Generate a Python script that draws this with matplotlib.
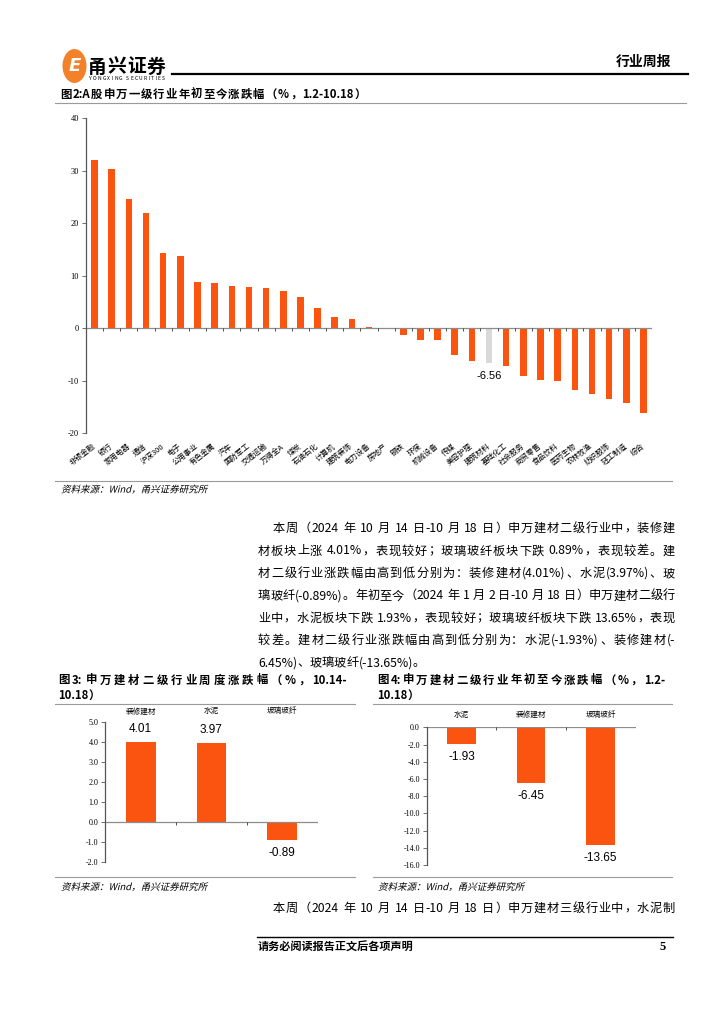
import re
import numpy as np
import matplotlib
matplotlib.use("Agg")
import matplotlib.pyplot as plt
from matplotlib.patches import Circle, PathPatch
from matplotlib.textpath import TextPath
from matplotlib.font_manager import FontProperties
from matplotlib.transforms import Affine2D

# ---------------- data ----------------
ind_names = ["非银金融", "银行", "家用电器", "通信", "沪深300", "电子", "公用事业",
             "有色金属", "汽车", "国防军工", "交通运输", "万得全A", "煤炭", "石油石化",
             "计算机", "建筑装饰", "电力设备", "房地产", "钢铁", "环保", "机械设备",
             "传媒", "美容护理", "建筑材料", "基础化工", "社会服务", "商贸零售",
             "食品饮料", "医药生物", "农林牧渔", "纺织服饰", "轻工制造", "综合"]
ind_ytd = [32.0, 30.3, 24.6, 22.0, 14.4, 13.8, 8.7, 8.6, 8.1, 7.8, 7.6, 7.1, 5.9,
           3.8, 2.2, 1.8, 0.15, -0.05, -1.3, -2.2, -2.2, -5.1, -6.2, -6.56, -7.2,
           -9.1, -9.8, -10.1, -11.8, -12.5, -13.6, -14.3, -16.1]
highlight = "建筑材料"

week_names = ["装修建材", "水泥", "玻璃玻纤"]
week_chg = [4.01, 3.97, -0.89]

ytd_names = ["水泥", "装修建材", "玻璃玻纤"]
ytd_chg = [-1.93, -6.45, -13.65]

para_lines = [
    "本周（2024 年 10 月 14 日-10 月 18 日）申万建材二级行业中，装修建",
    "材板块上涨 4.01%，表现较好；玻璃玻纤板块下跌 0.89%，表现较差。建",
    "材二级行业涨跌幅由高到低分别为：装修建材(4.01%)、水泥(3.97%)、玻",
    "璃玻纤(-0.89%)。年初至今（2024 年 1 月 2 日-10 月 18 日）申万建材二级行",
    "业中，水泥板块下跌 1.93%，表现较好；玻璃玻纤板块下跌 13.65%，表现",
    "较差。建材二级行业涨跌幅由高到低分别为：水泥(-1.93%)、装修建材(-",
    "6.45%)、玻璃玻纤(-13.65%)。",
]
para2_line = "本周（2024 年 10 月 14 日-10 月 18 日）申万建材三级行业中，水泥制"
source_txt = "资料来源：Wind，甬兴证券研究所"

# ---------------- style ----------------
W, H = 724, 1024
CJK = "Noto Sans CJK SC"
SERIF = "Liberation Serif"
SANS = "Liberation Sans"
BAR = "#FB5310"
GREY_BAR = "#D9D9D9"
RULE = "#9A9A9A"
AXC = "#555555"

plt.rcParams["font.family"] = [CJK, "DejaVu Sans"]
fig = plt.figure(figsize=(W / 100, H / 100), dpi=100)
renderer = fig.canvas.get_renderer()


def fx(x):
    return x / W


def fy(y):
    return 1 - y / H


def hline(y, x0, x1, lw=0.8, color=RULE):
    fig.add_artist(plt.Line2D([fx(x0), fx(x1)], [fy(y), fy(y)], color=color, lw=lw,
                              transform=fig.transFigure))


def text_line(x0, x1, y, s, size, weight="normal", justify=True, per_char=False):
    # split into CJK chars / ascii runs and spread them across the line width
    if per_char:
        toks = list(s)
    else:
        toks = re.findall(r"[\x21-\x7e]+|\s+|[^\x00-\x7f]", s)
    widths = []
    for t in toks:
        if t.isspace():
            widths.append(size * 100 / 72 * 0.25)
            continue
        tt = fig.text(0, 0, t, fontsize=size, fontweight=weight)
        widths.append(tt.get_window_extent(renderer).width)
        tt.remove()
    gap = 0.0
    if justify and len(toks) > 1:
        gap = (x1 - x0 - sum(widths)) / (len(toks) - 1)
    x = x0
    for t, w in zip(toks, widths):
        if not t.isspace():
            fig.text(fx(x), fy(y), t, fontsize=size, fontweight=weight,
                     ha="left", va="center_baseline")
        x += w + gap


def italic_text(x, y, s, size_px):
    tp = TextPath((0, 0), s, size=size_px, prop=FontProperties(family=CJK))
    tr = (Affine2D().skew_deg(14, 0).translate(x, H - y - size_px * 0.38)
          + Affine2D().scale(1 / W, 1 / H) + fig.transFigure)
    fig.add_artist(PathPatch(tp, transform=tr, facecolor="black", lw=0))


def axes_px(left, right, top, bottom):
    return fig.add_axes([fx(left), fy(bottom), (right - left) / W, (bottom - top) / H])


# ---------------- header ----------------
fig.add_artist(Circle((fx(74.5), fy(66)), 12 / W, transform=fig.transFigure,
                      facecolor="#F2812A", edgecolor="none"))
fig.text(fx(75), fy(66), "E", fontsize=13, color="white", fontweight="bold",
         style="italic", family="DejaVu Sans", ha="center", va="center")
text_line(88, 165, 65, "甬兴证券", 13.5, weight="bold")
text_line(89, 165, 78.5, "YONGXING SECURITIES", 3.6, per_char=True)
fig.text(fx(671), fy(62), "行业周报", fontsize=10, fontweight="bold", ha="right",
         va="center")
hline(73.5, 172, 688, lw=1.6, color="black")

# ---------------- figure 2 ----------------
text_line(60, 366, 93, "图2:A股申万一级行业年初至今涨跌幅（%，1.2-10.18）", 8.2,
          weight="bold")
hline(103, 55, 686)

ax = axes_px(86, 652, 118.3, 433)
n = len(ind_names)
xs = np.arange(n)
cols = [GREY_BAR if c == highlight else BAR for c in ind_names]
ax.bar(xs, ind_ytd, width=0.38, color=cols)
ax.set_xlim(-0.5, n - 0.5)
ax.set_ylim(-20, 40)
ax.set_yticks(np.arange(-20, 41, 10))
ax.set_yticklabels([f"{v}" for v in range(-20, 41, 10)], family=SERIF, fontsize=6)
ax.tick_params(axis="y", length=3, width=0.6, color=AXC, pad=2)
ax.set_xticks(xs)
ax.set_xticklabels(ind_names, rotation=38, ha="right", va="center",
                   rotation_mode="anchor", fontsize=5.4)
ax.tick_params(axis="x", length=0, pad=9)
for s in ["top", "right", "bottom"]:
    ax.spines[s].set_visible(False)
ax.spines["left"].set_color(AXC)
ax.spines["left"].set_linewidth(0.9)
ax.axhline(0, color="#8C8C8C", lw=0.9)
ax.vlines(np.arange(n + 1) - 0.5, -0.55, 0, color="#333333", lw=0.6)
hi = ind_names.index(highlight)
ax.annotate(f"{ind_ytd[hi]:.2f}", (hi, ind_ytd[hi]), xytext=(0, -6),
            textcoords="offset points", ha="center", va="top", fontsize=8,
            family=SANS)

hline(481, 55, 672)
italic_text(61, 489, source_txt, 9.5)

# ---------------- paragraph ----------------
ys = [527, 549.5, 572, 594.3, 616.6, 639, 661.3]
for i, (line, y) in enumerate(zip(para_lines, ys)):
    x0 = 273 if i == 0 else 258
    text_line(x0, 675, y, line, 8.8, justify=(i < len(para_lines) - 1))

# ---------------- figure 3 ----------------
text_line(58, 347, 678.5, "图3:申万建材二级行业周度涨跌幅（%，10.14-", 8.2,
          weight="bold")
text_line(58, 92, 694, "10.18）", 8.2, weight="bold", justify=False)
hline(703.5, 55, 355)

ax3 = axes_px(105.3, 317.6, 722.3, 861.7)
x3 = np.arange(len(week_names))
ax3.bar(x3, week_chg, width=0.42, color=BAR)
ax3.set_xlim(-0.5, len(week_names) - 0.5)
ax3.set_ylim(-2, 5)
ax3.set_yticks(np.arange(-2, 5.1, 1))
ax3.set_yticklabels([f"{v:.1f}" for v in np.arange(-2, 5.1, 1)], family=SERIF,
                    fontsize=5.8)
ax3.tick_params(axis="y", length=3, width=0.6, color=AXC, pad=2)
ax3.xaxis.tick_top()
ax3.set_xticks(x3)
ax3.set_xticklabels(week_names, fontsize=5.5)
ax3.tick_params(axis="x", length=0, pad=5)
for s in ["top", "right", "bottom"]:
    ax3.spines[s].set_visible(False)
ax3.spines["left"].set_color(AXC)
ax3.spines["left"].set_linewidth(0.9)
ax3.axhline(0, color="#8C8C8C", lw=0.9)
ax3.vlines(np.arange(len(week_names) + 1) - 0.5, -0.15, 0, color="#333333", lw=0.6)
for xi, v in zip(x3, week_chg):
    ax3.annotate(f"{v:.2f}", (xi, v), xytext=(0, 5 if v >= 0 else -5),
                 textcoords="offset points", ha="center",
                 va="bottom" if v >= 0 else "top", fontsize=8.5, family=SANS)

hline(877, 55, 355)
italic_text(61, 886.5, source_txt, 9.5)

# ---------------- figure 4 ----------------
text_line(377, 665, 678.5, "图4:申万建材二级行业年初至今涨跌幅（%，1.2-", 8.2,
          weight="bold")
text_line(377, 412, 694, "10.18）", 8.2, weight="bold", justify=False)
hline(703.5, 373, 672)

ax4 = axes_px(426.9, 635.5, 727.3, 865)
x4 = np.arange(len(ytd_names))
ax4.bar(x4, ytd_chg, width=0.41, color=BAR)
ax4.set_xlim(-0.5, len(ytd_names) - 0.5)
ax4.set_ylim(-16, 0)
ax4.set_yticks(np.arange(-16, 0.1, 2))
ax4.set_yticklabels([f"{v:.1f}" for v in np.arange(-16, 0.1, 2)], family=SERIF,
                    fontsize=5.8)
ax4.tick_params(axis="y", length=3, width=0.6, color=AXC, pad=2)
ax4.xaxis.tick_top()
ax4.set_xticks(x4)
ax4.set_xticklabels(ytd_names, fontsize=5.5)
ax4.tick_params(axis="x", length=0, pad=6)
for s in ["top", "right", "bottom"]:
    ax4.spines[s].set_visible(False)
ax4.spines["left"].set_color(AXC)
ax4.spines["left"].set_linewidth(0.9)
ax4.axhline(0, color="#8C8C8C", lw=0.9)
ax4.vlines(np.arange(len(ytd_names) + 1) - 0.5, -0.35, 0, color="#333333", lw=0.6)
for xi, v in zip(x4, ytd_chg):
    ax4.annotate(f"{v:.2f}", (xi, v), xytext=(0, -5), textcoords="offset points",
                 ha="center", va="top", fontsize=8.5, family=SANS)

hline(877, 373, 672)
italic_text(378, 886.5, source_txt, 9.5)

# ---------------- closing text + footer ----------------
text_line(273, 675, 907, para2_line, 8.8)
hline(937, 257, 673, lw=1.0, color="black")
fig.text(fx(258), fy(947), "请务必阅读报告正文后各项声明", fontsize=8, fontweight="bold",
         ha="left", va="center")
fig.text(fx(666), fy(947), "5", fontsize=9, fontweight="bold", family=SERIF,
         ha="right", va="center")

fig.savefig("out.png", dpi=100)
